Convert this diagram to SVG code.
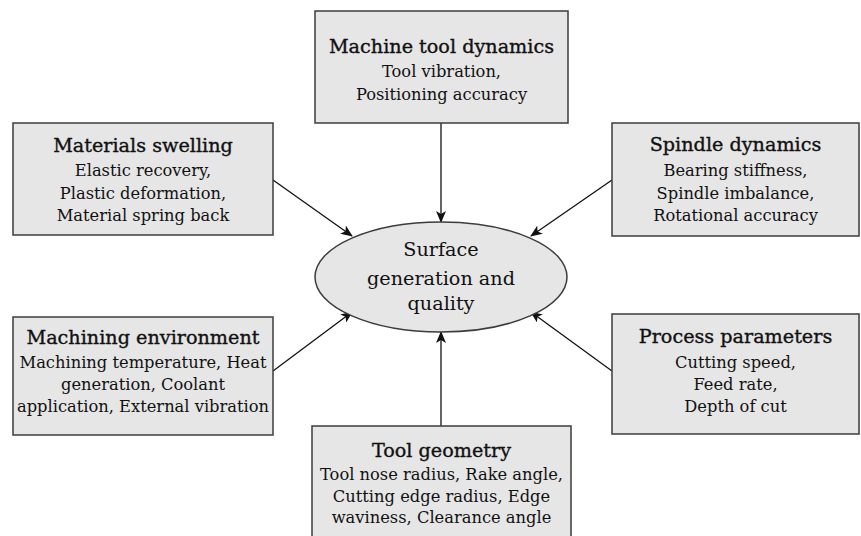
<svg xmlns="http://www.w3.org/2000/svg" width="861" height="536" viewBox="0 0 861 536">
<defs>
<style>
.box{fill:#e6e6e6;stroke:#3c3c3c;stroke-width:1.5}
text{font-family:"DejaVu Serif","Liberation Serif",serif;fill:#111;text-anchor:middle}
.t{font-size:19.2px;stroke:#111;stroke-width:0.35}
.b{font-size:16.3px}
.e{font-size:19.2px}
.c{stroke:#111;stroke-width:1.3;fill:none;marker-end:url(#ah)}
</style>
<marker id="ah" viewBox="0 0 12 10" refX="11" refY="5" markerWidth="12" markerHeight="10" markerUnits="userSpaceOnUse" orient="auto">
<path d="M0,0 L12,5 L0,10 L3,5 Z" fill="#111"/>
</marker>
</defs>
<rect width="861" height="536" fill="#fff"/>
<g id="connectors">
<line class="c" x1="441" y1="123" x2="441" y2="222"/>
<line class="c" x1="273" y1="180" x2="352" y2="236"/>
<line class="c" x1="612" y1="180" x2="531" y2="236"/>
<line class="c" x1="273" y1="371" x2="352" y2="312"/>
<line class="c" x1="612" y1="371" x2="531" y2="312"/>
<line class="c" x1="441" y1="426" x2="441" y2="332"/>
</g>
<g id="center">
<ellipse cx="441" cy="277" rx="126" ry="55" class="box"/>
<text class="e" x="441" y="256">Surface</text>
<text class="e" x="441" y="285">generation and</text>
<text class="e" x="441" y="310">quality</text>
</g>
<g id="machine-tool">
<rect x="315" y="11" width="253" height="112" class="box"/>
<text class="t" x="441.5" y="53">Machine tool dynamics</text>
<text class="b" x="441.5" y="77">Tool vibration,</text>
<text class="b" x="441.5" y="100">Positioning accuracy</text>
</g>
<g id="materials">
<rect x="13" y="123" width="260" height="112" class="box"/>
<text class="t" x="143" y="152">Materials swelling</text>
<text class="b" x="143" y="176">Elastic recovery,</text>
<text class="b" x="143" y="199">Plastic deformation,</text>
<text class="b" x="143" y="221">Material spring back</text>
</g>
<g id="spindle">
<rect x="612" y="123" width="247" height="113" class="box"/>
<text class="t" x="735.5" y="151">Spindle dynamics</text>
<text class="b" x="735.5" y="176">Bearing stiffness,</text>
<text class="b" x="735.5" y="199">Spindle imbalance,</text>
<text class="b" x="735.5" y="221">Rotational accuracy</text>
</g>
<g id="environment">
<rect x="13" y="317" width="260" height="118" class="box"/>
<text class="t" x="143" y="344">Machining environment</text>
<text class="b" x="143" y="368">Machining temperature, Heat</text>
<text class="b" x="143" y="390">generation, Coolant</text>
<text class="b" x="143" y="412">application, External vibration</text>
</g>
<g id="process">
<rect x="612" y="314" width="247" height="120" class="box"/>
<text class="t" x="735.5" y="343">Process parameters</text>
<text class="b" x="735.5" y="368">Cutting speed,</text>
<text class="b" x="735.5" y="390">Feed rate,</text>
<text class="b" x="735.5" y="412">Depth of cut</text>
</g>
<g id="geometry">
<rect x="312" y="426" width="259" height="116" class="box"/>
<text class="t" x="441.5" y="457">Tool geometry</text>
<text class="b" x="441.5" y="480">Tool nose radius, Rake angle,</text>
<text class="b" x="441.5" y="502">Cutting edge radius, Edge</text>
<text class="b" x="441.5" y="523">waviness, Clearance angle</text>
</g>
</svg>
